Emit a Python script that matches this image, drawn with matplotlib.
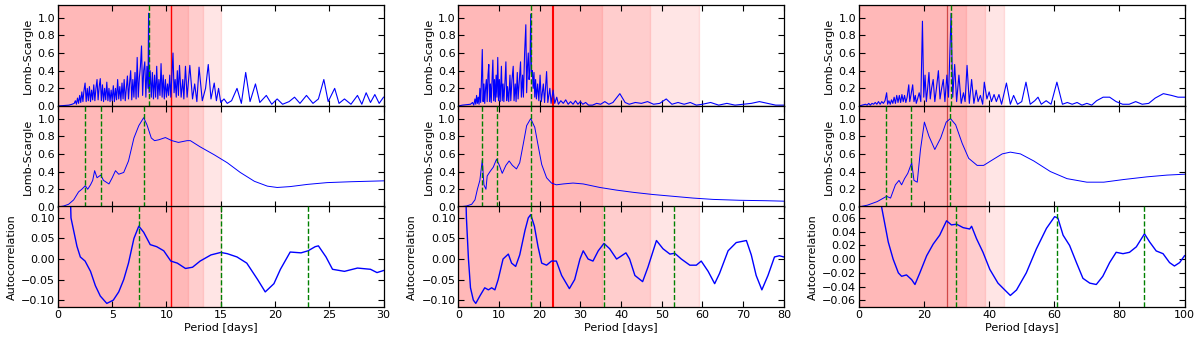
import matplotlib.pyplot as plt

# %% Data (periods in days)

# column 1: raw Lomb-Scargle periodogram
ls1_period = [0.0, 0.5, 1.0, 1.3, 1.5, 1.6, 1.7, 1.8, 1.9, 2.0, 2.1, 2.2, 2.3, 2.4, 2.5,
              2.6, 2.7, 2.8, 2.9, 3.0, 3.1, 3.2, 3.3, 3.4, 3.5, 3.6, 3.7, 3.8, 3.9, 4.0,
              4.1, 4.2, 4.3, 4.4, 4.5, 4.6, 4.7, 4.8, 4.9, 5.0, 5.1, 5.2, 5.3, 5.4, 5.5,
              5.6, 5.7, 5.8, 5.9, 6.0, 6.1, 6.2, 6.3, 6.4, 6.5, 6.6, 6.7, 6.8, 6.9, 7.0,
              7.1, 7.2, 7.3, 7.4, 7.5, 7.6, 7.7, 7.8, 7.9, 8.0, 8.1, 8.2, 8.3, 8.35, 8.4,
              8.5, 8.6, 8.7, 8.8, 8.9, 9.0, 9.1, 9.2, 9.3, 9.4, 9.5, 9.6, 9.7, 9.8, 9.9,
              10.0, 10.1, 10.2, 10.3, 10.4, 10.6, 10.7, 10.8, 10.9, 11.0, 11.1, 11.2,
              11.35, 11.5, 11.6, 11.75, 11.9, 12.15, 12.4, 12.6, 12.8, 13.0, 13.3, 13.6,
              13.85, 14.1, 14.4, 14.6, 14.8, 15.0, 15.3, 15.6, 16.0, 16.5, 16.9, 17.3,
              17.7, 18.2, 18.6, 19.2, 19.7, 20.2, 20.7, 21.3, 21.8, 22.3, 22.9, 23.5,
              24.0, 24.5, 24.9, 25.5, 25.9, 26.4, 27.0, 27.6, 28.0, 28.4, 28.8, 29.2,
              29.6, 30.0]
ls1_power = [0.0, 0.005, 0.01, 0.02, 0.03, 0.06, 0.02, 0.09, 0.03, 0.12, 0.04, 0.16, 0.05,
             0.18, 0.26, 0.05, 0.2, 0.06, 0.22, 0.05, 0.18, 0.07, 0.24, 0.06, 0.2, 0.3,
             0.07, 0.22, 0.31, 0.06, 0.24, 0.05, 0.2, 0.07, 0.27, 0.06, 0.2, 0.05, 0.18,
             0.06, 0.23, 0.05, 0.2, 0.07, 0.3, 0.08, 0.22, 0.06, 0.26, 0.08, 0.3, 0.06,
             0.2, 0.34, 0.08, 0.26, 0.4, 0.07, 0.3, 0.1, 0.38, 0.08, 0.55, 0.1, 0.32,
             0.45, 0.68, 0.12, 0.4, 0.5, 0.1, 0.45, 0.2, 1.05, 0.15, 0.4, 0.1, 0.38, 0.08,
             0.35, 0.1, 0.45, 0.08, 0.3, 0.12, 0.48, 0.1, 0.35, 0.08, 0.3, 0.1, 0.25, 0.12,
             0.35, 0.1, 0.6, 0.15, 0.3, 0.1, 0.4, 0.12, 0.46, 0.1, 0.3, 0.08, 0.45, 0.1,
             0.46, 0.08, 0.25, 0.05, 0.44, 0.06, 0.2, 0.47, 0.08, 0.26, 0.06, 0.2, 0.04,
             0.08, 0.03, 0.06, 0.2, 0.03, 0.38, 0.05, 0.25, 0.04, 0.12, 0.02, 0.08, 0.02,
             0.05, 0.1, 0.03, 0.12, 0.03, 0.08, 0.3, 0.05, 0.2, 0.03, 0.08, 0.02, 0.12,
             0.02, 0.15, 0.04, 0.13, 0.03, 0.1]

# column 1: smoothed periodogram
sm1_period = [0.0, 0.52, 0.98, 1.45, 1.9, 2.2, 2.52, 2.74, 3.0, 3.2, 3.38, 3.6, 3.94, 4.2,
              4.7, 5.0, 5.3, 5.6, 6.06, 6.5, 7.0, 7.45, 7.9, 8.2, 8.6, 8.9, 9.3, 9.9,
              10.5, 11.1, 11.9, 12.2, 13.1, 14.4, 15.6, 16.8, 18.1, 19.3, 20.2, 21.4,
              23.0, 24.8, 27.0, 30.0]
sm1_power = [0.0, 0.01, 0.03, 0.08, 0.17, 0.2, 0.24, 0.2, 0.25, 0.3, 0.41, 0.33, 0.36,
             0.3, 0.26, 0.33, 0.41, 0.37, 0.39, 0.52, 0.78, 0.92, 1.01, 0.93, 0.78, 0.75,
             0.76, 0.785, 0.75, 0.73, 0.75, 0.75, 0.68, 0.59, 0.5, 0.39, 0.29, 0.235,
             0.22, 0.23, 0.255, 0.275, 0.285, 0.295]

# column 1: autocorrelation
acf1_lag = [0.0, 1.0, 1.2, 1.75, 2.06, 2.5, 3.0, 3.45, 3.9, 4.5, 5.1, 5.6, 6.06, 6.5, 7.0,
            7.45, 7.9, 8.5, 9.1, 9.75, 10.4, 11.0, 11.75, 12.4, 13.1, 14.1, 15.0, 15.6,
            16.5, 17.4, 18.4, 19.1, 19.9, 20.5, 21.4, 22.4, 23.05, 23.7, 24.0, 24.7,
            25.3, 26.4, 27.6, 28.8, 29.4, 30.0]
acf1_value = [1.0, 0.3, 0.1, 0.031, 0.005, -0.005, -0.03, -0.065, -0.09, -0.108, -0.1,
              -0.08, -0.05, -0.01, 0.05, 0.08, 0.065, 0.035, 0.03, 0.02, -0.005, -0.01,
              -0.023, -0.02, -0.005, 0.01, 0.016, 0.013, 0.005, -0.01, -0.05, -0.08,
              -0.06, -0.025, 0.017, 0.015, 0.02, 0.03, 0.032, 0.005, -0.025, -0.03,
              -0.022, -0.025, -0.033, -0.028]

# column 2: raw Lomb-Scargle periodogram
ls2_period = [0.0, 1.0, 2.0, 3.0, 3.5, 3.8, 4.1, 4.3, 4.5, 4.7, 4.9, 5.1, 5.3, 5.5, 5.7,
              5.9, 6.1, 6.3, 6.5, 6.7, 6.9, 7.1, 7.3, 7.5, 7.7, 7.9, 8.1, 8.3, 8.5, 8.7,
              8.9, 9.1, 9.3, 9.5, 9.7, 9.9, 10.1, 10.3, 10.6, 10.8, 11.0, 11.2, 11.5,
              11.7, 11.9, 12.1, 12.4, 12.7, 12.9, 13.2, 13.5, 13.7, 14.0, 14.2, 14.5,
              14.7, 15.0, 15.3, 15.5, 15.8, 16.0, 16.3, 16.6, 16.8, 17.0, 17.2, 17.4,
              17.6, 17.8, 18.0, 18.2, 18.4, 18.6, 18.8, 19.0, 19.2, 19.5, 19.8, 20.1,
              20.4, 20.9, 21.2, 21.7, 22.0, 22.5, 22.8, 23.3, 23.7, 24.2, 24.6, 25.2,
              25.8, 26.4, 27.0, 27.6, 28.2, 28.8, 29.4, 30.0, 30.6, 31.3, 32.0, 33.0,
              34.0, 35.0, 36.0, 37.0, 38.0, 39.7, 41.0, 42.0, 43.5, 45.0, 46.5, 48.0,
              49.5, 51.1, 52.5, 54.0, 55.5, 57.0, 58.5, 60.0, 62.0, 64.0, 66.0, 68.0,
              70.0, 72.0, 74.0, 76.0, 78.0, 80.0]
ls2_power = [0.0, 0.01, 0.015, 0.02, 0.04, 0.01, 0.08, 0.02, 0.12, 0.03, 0.1, 0.02, 0.2,
             0.04, 0.3, 0.64, 0.05, 0.25, 0.03, 0.2, 0.3, 0.05, 0.35, 0.47, 0.05, 0.25,
             0.04, 0.3, 0.52, 0.06, 0.3, 0.05, 0.35, 0.1, 0.55, 0.06, 0.3, 0.05, 0.45,
             0.06, 0.25, 0.05, 0.3, 0.5, 0.06, 0.22, 0.05, 0.35, 0.06, 0.3, 0.45, 0.06,
             0.25, 0.05, 0.38, 0.08, 0.3, 0.5, 0.1, 0.35, 0.1, 0.6, 0.92, 0.15, 0.45,
             0.6, 0.3, 0.4, 1.04, 0.35, 0.4, 0.2, 0.38, 0.1, 0.3, 0.08, 0.25, 0.06, 0.35,
             0.05, 0.25, 0.04, 0.39, 0.04, 0.2, 0.03, 0.18, 0.03, 0.1, 0.02, 0.06, 0.03,
             0.07, 0.02, 0.05, 0.02, 0.06, 0.02, 0.05, 0.02, 0.04, 0.01, 0.01, 0.03,
             0.02, 0.05, 0.02, 0.04, 0.14, 0.04, 0.02, 0.04, 0.03, 0.05, 0.02, 0.03,
             0.08, 0.02, 0.04, 0.02, 0.04, 0.01, 0.02, 0.04, 0.01, 0.03, 0.01, 0.02,
             0.03, 0.05, 0.03, 0.01, 0.01]

# column 2: smoothed periodogram
sm2_period = [0.0, 2.0, 3.3, 4.1, 4.7, 5.3, 5.9, 6.3, 6.8, 7.1, 7.8, 8.6, 9.4, 10.1, 10.8,
              11.7, 12.5, 13.3, 14.3, 15.1, 16.0, 16.8, 17.8, 18.8, 19.6, 20.5, 21.7,
              22.9, 24.1, 25.8, 28.2, 30.7, 34.8, 38.9, 43.0, 47.9, 52.8, 57.7, 62.6,
              69.1, 75.7, 80.0]
sm2_power = [0.0, 0.01, 0.03, 0.08, 0.2, 0.3, 0.53, 0.25, 0.2, 0.35, 0.4, 0.45, 0.54,
             0.47, 0.38, 0.47, 0.52, 0.47, 0.43, 0.5, 0.72, 0.92, 1.0, 0.9, 0.7, 0.48,
             0.33, 0.27, 0.25, 0.26, 0.27, 0.26, 0.22, 0.19, 0.165, 0.14, 0.12, 0.1,
             0.085, 0.075, 0.07, 0.065]

# column 2: autocorrelation
acf2_lag = [0.0, 1.0, 2.0, 2.5, 3.0, 3.7, 4.3, 5.3, 6.5, 7.4, 8.2, 9.0, 9.8, 11.0, 12.3,
            13.1, 14.1, 15.1, 16.4, 17.2, 17.8, 18.7, 19.6, 20.5, 21.7, 22.9, 24.1, 25.4,
            27.3, 28.6, 29.9, 30.7, 31.9, 33.1, 34.4, 35.8, 37.2, 38.9, 39.7, 41.2,
            42.1, 43.4, 45.3, 46.6, 48.7, 50.3, 52.0, 53.2, 54.8, 56.9, 58.5, 59.7,
            61.4, 63.0, 64.2, 66.3, 68.3, 70.8, 72.0, 73.2, 74.6, 76.1, 77.7, 78.9, 80.0]
acf2_value = [1.0, 0.5, 0.1, 0.0, -0.07, -0.1, -0.108, -0.09, -0.07, -0.075, -0.07,
              -0.075, -0.05, 0.0, 0.012, -0.01, -0.018, 0.01, 0.07, 0.1, 0.108, 0.08,
              0.03, -0.01, -0.015, -0.005, -0.005, -0.04, -0.072, -0.05, 0.0, 0.02, 0.0,
              -0.005, 0.02, 0.038, 0.025, 0.0, 0.005, 0.015, 0.0, -0.04, -0.055, -0.02,
              0.045, 0.025, 0.012, 0.014, 0.0, -0.015, -0.015, -0.005, -0.03, -0.06,
              -0.035, 0.02, 0.04, 0.045, 0.01, -0.04, -0.075, -0.04, 0.005, 0.008, 0.005]

# column 3: raw Lomb-Scargle periodogram
ls3_period = [0.0, 1.0, 2.0, 2.5, 3.0, 3.5, 4.0, 4.5, 5.0, 5.5, 6.0, 6.5, 7.0, 7.5, 8.0,
              8.5, 8.8, 9.2, 9.6, 10.0, 10.4, 10.8, 11.2, 11.6, 12.0, 12.4, 12.8, 13.2,
              13.6, 14.0, 14.4, 14.8, 15.3, 15.6, 16.0, 16.5, 16.9, 17.3, 17.6, 18.0,
              18.5, 19.0, 19.5, 19.9, 20.3, 20.7, 21.1, 21.5, 21.9, 22.3, 22.8, 23.3,
              23.8, 24.4, 24.9, 25.4, 25.9, 26.4, 27.0, 27.5, 28.3, 28.8, 29.4, 30.0,
              30.7, 31.4, 32.1, 32.6, 33.2, 33.9, 34.6, 35.3, 36.0, 36.6, 37.3, 38.0,
              38.5, 39.3, 40.0, 40.7, 41.5, 42.2, 43.0, 43.8, 45.3, 46.5, 47.5, 48.7,
              50.0, 51.3, 52.6, 54.0, 55.0, 56.0, 57.5, 59.0, 60.8, 62.5, 64.0, 65.5,
              67.0, 68.5, 70.0, 71.5, 73.0, 75.0, 77.0, 79.0, 81.0, 83.0, 85.0, 87.0,
              89.0, 91.0, 93.5, 96.0, 98.0, 100.0]
ls3_power = [0.0, 0.01, 0.02, 0.01, 0.03, 0.01, 0.03, 0.02, 0.04, 0.02, 0.05, 0.02, 0.05,
             0.03, 0.06, 0.15, 0.02, 0.06, 0.02, 0.07, 0.03, 0.1, 0.03, 0.12, 0.04, 0.12,
             0.04, 0.13, 0.05, 0.12, 0.04, 0.1, 0.24, 0.05, 0.13, 0.24, 0.05, 0.12, 0.03,
             0.08, 0.15, 0.05, 0.96, 0.1, 0.35, 0.05, 0.2, 0.38, 0.08, 0.2, 0.3, 0.05,
             0.2, 0.4, 0.08, 0.2, 0.3, 0.05, 0.35, 0.1, 1.05, 0.1, 0.47, 0.05, 0.35,
             0.03, 0.15, 0.05, 0.46, 0.03, 0.3, 0.03, 0.18, 0.05, 0.12, 0.02, 0.27, 0.08,
             0.16, 0.05, 0.13, 0.05, 0.13, 0.02, 0.26, 0.02, 0.12, 0.02, 0.05, 0.27,
             0.02, 0.06, 0.1, 0.02, 0.06, 0.02, 0.27, 0.02, 0.04, 0.02, 0.04, 0.01, 0.03,
             0.01, 0.06, 0.1, 0.1, 0.05, 0.02, 0.02, 0.05, 0.02, 0.03, 0.09, 0.14, 0.12,
             0.1, 0.1]

# column 3: smoothed periodogram
sm3_period = [0.0, 2.6, 5.6, 8.5, 9.7, 11.2, 12.3, 13.1, 14.0, 15.0, 16.2, 16.9, 17.9,
              18.9, 20.1, 21.5, 23.3, 25.1, 26.8, 28.1, 29.7, 31.7, 33.7, 36.3, 38.3,
              40.9, 44.0, 46.5, 49.6, 53.7, 58.8, 63.9, 70.0, 75.2, 81.3, 88.4, 94.6,
              100.0]
sm3_power = [0.0, 0.02, 0.06, 0.12, 0.1, 0.25, 0.3, 0.25, 0.32, 0.38, 0.5, 0.3, 0.28,
             0.65, 0.96, 0.8, 0.65, 0.78, 0.96, 1.0, 0.93, 0.72, 0.55, 0.47, 0.47, 0.53,
             0.6, 0.62, 0.6, 0.52, 0.4, 0.32, 0.28, 0.28, 0.31, 0.34, 0.36, 0.37]

# column 3: autocorrelation
acf3_lag = [0.0, 4.0, 7.0, 8.0, 9.0, 10.5, 12.1, 13.1, 14.6, 16.2, 17.2, 18.7, 20.8,
            22.8, 24.8, 26.9, 28.4, 30.0, 32.0, 34.0, 34.6, 36.1, 38.1, 40.2, 42.7, 44.8,
            46.5, 48.4, 51.4, 54.5, 57.6, 60.1, 61.1, 62.7, 64.7, 66.8, 68.8, 70.9, 72.9,
            74.9, 77.0, 79.0, 81.1, 83.1, 85.2, 87.7, 89.3, 91.3, 93.4, 95.4, 96.9, 98.5,
            100.0]
acf3_value = [1.0, 0.3, 0.075, 0.05, 0.025, 0.0, -0.02, -0.025, -0.023, -0.03, -0.037,
              -0.02, 0.005, 0.022, 0.035, 0.056, 0.05, 0.051, 0.046, 0.044, 0.048, 0.03,
              0.01, -0.015, -0.035, -0.045, -0.053, -0.045, -0.02, 0.015, 0.045, 0.062,
              0.06, 0.035, 0.02, -0.005, -0.028, -0.035, -0.037, -0.025, -0.005, 0.01,
              0.008, 0.01, 0.018, 0.037, 0.025, 0.012, 0.008, -0.005, -0.01, -0.005,
              0.005]

# marked periods per column
red_period = [10.45, 23.2, 27.1]
green_ls = [[8.35], [17.9], [28.2]]
green_smooth = [[2.5, 3.95, 7.9], [5.95, 9.45, 17.85], [8.4, 15.95, 27.9]]
green_acf = [[7.45, 15.0, 23.05], [17.8, 35.8, 53.0], [29.8, 60.8, 87.7]]
shade_limits = [[12.0, 13.4, 15.0], [35.2, 47.2, 59.1], [33.0, 38.7, 44.4]]
x_max = [30, 80, 100]
x_step = [5, 10, 20]
acf_ticks = [[-0.10, -0.05, 0.00, 0.05, 0.10],
             [-0.10, -0.05, 0.00, 0.05, 0.10],
             [-0.06, -0.04, -0.02, 0.00, 0.02, 0.04, 0.06]]
acf_lims = [(-0.117, 0.128), (-0.117, 0.128), (-0.07, 0.077)]

columns = [
    (ls1_period, ls1_power, sm1_period, sm1_power, acf1_lag, acf1_value),
    (ls2_period, ls2_power, sm2_period, sm2_power, acf2_lag, acf2_value),
    (ls3_period, ls3_power, sm3_period, sm3_power, acf3_lag, acf3_value),
]

# %% Figure
fig = plt.figure(figsize=(12, 3.42), dpi=100)

lefts = [0.0483, 0.3819, 0.7158]
bottoms = [0.69, 0.395, 0.102]
width, height = 0.2713, 0.2945
red_lw = [1.0, 1.5, 0.9]
red_color = ["red", "red", "#d04848"]
fs = 8

for i, (lsx, lsy, smx, smy, acx, acy) in enumerate(columns):
    ax_top = fig.add_axes([lefts[i], bottoms[0], width, height])
    ax_mid = fig.add_axes([lefts[i], bottoms[1], width, height], sharex=ax_top)
    ax_bot = fig.add_axes([lefts[i], bottoms[2], width, height], sharex=ax_top)
    axes = [ax_top, ax_mid, ax_bot]

    ax_top.plot(lsx, lsy, color="blue", lw=0.8)
    ax_mid.plot(smx, smy, color="blue", lw=0.7)
    ax_bot.plot(acx, acy, color="blue", lw=1.0)

    for ax in axes:
        # nested shaded ranges: darker where they overlap
        for lim in shade_limits[i]:
            ax.axvspan(0, lim, color="red", alpha=0.1, zorder=0)
        ax.axvline(red_period[i], color=red_color[i], lw=red_lw[i], zorder=1)
        ax.tick_params(direction="in", top=True, right=True, labelsize=fs,
                       length=4, width=0.8, pad=2)
        for spine in ax.spines.values():
            spine.set_linewidth(0.9)

    for p in green_ls[i]:
        ax_top.axvline(p, color="green", ls="--", lw=1.0, zorder=3)
    for p in green_smooth[i]:
        ax_mid.axvline(p, color="green", ls="--", lw=1.0, zorder=3)
    for p in green_acf[i]:
        ax_bot.axvline(p, color="green", ls="--", lw=1.0, zorder=3)

    ax_top.set_xlim(0, x_max[i])
    ax_top.set_xticks(range(0, x_max[i] + 1, x_step[i]))
    ax_top.tick_params(labelbottom=False)
    ax_mid.tick_params(labelbottom=False)

    for ax in (ax_top, ax_mid):
        ax.set_ylim(0, 1.14)
        ax.set_yticks([0.0, 0.2, 0.4, 0.6, 0.8, 1.0])
        ax.set_ylabel("Lomb-Scargle", fontsize=fs, labelpad=3)

    ax_bot.set_ylim(*acf_lims[i])
    ax_bot.set_yticks(acf_ticks[i])
    ax_bot.set_ylabel("Autocorrelation", fontsize=fs, labelpad=3)
    ax_bot.set_xlabel("Period [days]", fontsize=fs, labelpad=2)

fig.savefig("out.png", dpi=100)
